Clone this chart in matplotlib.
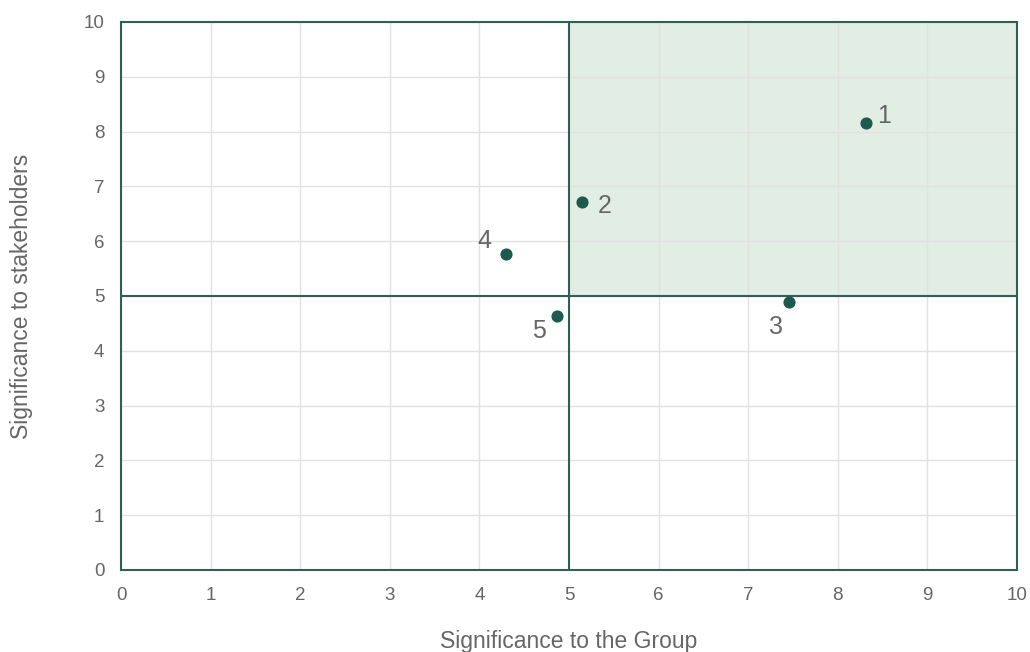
import matplotlib.pyplot as plt

plt.rcParams['font.family'] = ['Liberation Sans', 'DejaVu Sans']

# topics: significance to the group (x) vs to stakeholders (y)
labels = ['1', '2', '3', '4', '5']
group_sig = [8.31, 5.15, 7.45, 4.30, 4.87]
stake_sig = [8.16, 6.72, 4.89, 5.77, 4.64]
# label centre offsets in points
label_offsets = [(13, 5), (16, -3), (-9, -18), (-16, 9), (-13, -11)]

dark = '#1d5a4e'
spine = '#2f5f55'
fill = '#e2ede4'
text_grey = '#666666'

fig = plt.figure(figsize=(10.3, 6.52), dpi=100)
ax = fig.add_axes([0.1175, 0.1258, 0.8699, 0.8405])

ax.set_xlim(0, 10)
ax.set_ylim(0, 10)
ax.set_xticks(range(11))
ax.set_yticks(range(11))
ax.grid(True, color='#e1e1e1', linewidth=1)
ax.set_axisbelow(True)

# material quadrant
ax.axvspan(5, 10, ymin=0.5, ymax=1, color=fill, zorder=0.5, linewidth=0)
ax.axvline(5, color=spine, linewidth=1.5, zorder=1)
ax.axhline(5, color=spine, linewidth=1.5, zorder=1)

for s in ax.spines.values():
    s.set_color(spine)
    s.set_linewidth(1.5)

ax.scatter(group_sig, stake_sig, s=60, color=dark, zorder=3)
for lab, x, y, off in zip(labels, group_sig, stake_sig, label_offsets):
    ax.annotate(lab, (x, y), xytext=off, textcoords='offset points',
                fontsize=18, color=text_grey, ha='center', va='center')

ax.tick_params(length=0, labelsize=13.5, labelcolor=text_grey, pad=12)
ax.set_xlabel('Significance to the Group', fontsize=16.5, color=text_grey, labelpad=19)
ax.set_ylabel('Significance to stakeholders', fontsize=16.5, color=text_grey, labelpad=36)

plt.savefig('out.png', dpi=100)
